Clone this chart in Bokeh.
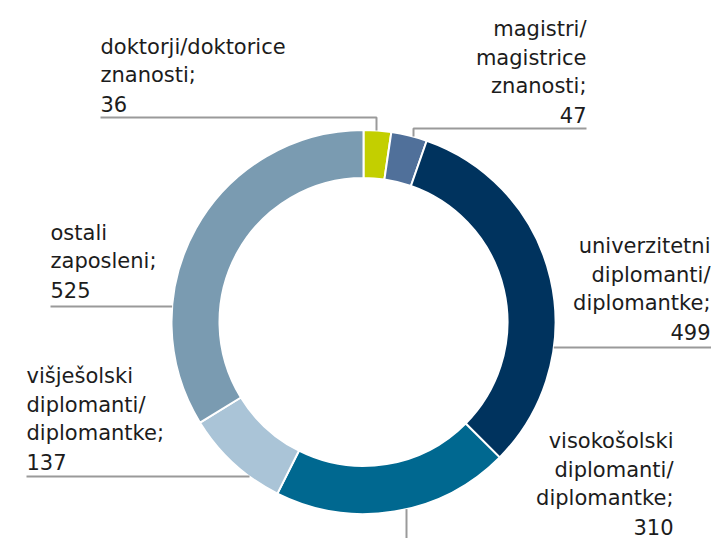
import math
from bokeh.plotting import figure
from bokeh.models import Range1d, ColumnDataSource
from bokeh.core.properties import value
from bokeh.embed import file_html
from bokeh.resources import INLINE

# ---- data (clockwise from 12 o'clock) ----
categories = [
    "doktorji/doktorice znanosti",
    "magistri/magistrice znanosti",
    "univerzitetni diplomanti/diplomantke",
    "visokošolski diplomanti/diplomantke",
    "višješolski diplomanti/diplomantke",
    "ostali zaposleni",
]
values = [36, 47, 499, 310, 137, 525]
label_lines = [
    ["doktorji/doktorice", "znanosti;"],
    ["magistri/", "magistrice", "znanosti;"],
    ["univerzitetni", "diplomanti/", "diplomantke;"],
    ["visokošolski", "diplomanti/", "diplomantke;"],
    ["višješolski", "diplomanti/", "diplomantke;"],
    ["ostali", "zaposleni;"],
]
colors = ["#c3cf00", "#50709a", "#00335e", "#006890", "#aac4d7", "#7a9bb1"]

# ---- layout (reference pixel coordinates, y downward) ----
W, H = 711, 538
def ry(y):
    return H - y

CX, CY = 363, 321.5
R_OUT, R_IN = 192, 144
LINE_H = 28.5
FONT = "DejaVu Sans"
FS = "21px"
TXT = "#1c1c1c"
LEAD = "#9a9a9a"
TEXT_SHIFT = 7  # compensate renderer baseline offset

p = figure(width=W, height=H, output_backend="svg", toolbar_location=None,
           x_range=Range1d(0, W), y_range=Range1d(0, H),
           x_axis_location=None, y_axis_location=None, min_border=0)
p.grid.visible = False
p.outline_line_color = None
p.background_fill_color = "white"

total = sum(values)
starts, ends = [], []
cum = 0
for v in values:
    a0 = math.pi / 2 - 2 * math.pi * (cum + v) / total
    a1 = math.pi / 2 - 2 * math.pi * cum / total
    starts.append(a0)
    ends.append(a1)
    cum += v

src = ColumnDataSource(dict(x=[CX] * len(values), y=[ry(CY)] * len(values),
                            start=starts, end=ends, color=colors, cat=categories))
p.annular_wedge(x="x", y="y", inner_radius=R_IN, outer_radius=R_OUT,
                start_angle="start", end_angle="end", fill_color="color",
                line_color="white", line_width=2, source=src)

def ring_x(y, side):
    d = math.sqrt(max(R_OUT ** 2 - (y - CY) ** 2, 0))
    return CX + side * d

def ring_y(x, side):
    d = math.sqrt(max(R_OUT ** 2 - (x - CX) ** 2, 0))
    return CY + side * d

# label placement: text x, alignment, leader y, last baseline, leader kind
layout = [
    dict(tx=100, align="left", ly=117, base=110, kind="top", vx=376),
    dict(tx=586, align="right", ly=128, base=121, kind="top", vx=413),
    dict(tx=710, align="right", ly=347, base=338, kind="right"),
    dict(tx=673, align="right", ly=None, base=533, kind="bottom", vx=406),
    dict(tx=26, align="left", ly=476, base=468, kind="left"),
    dict(tx=50, align="left", ly=306, base=296, kind="left"),
]

for i, lay in enumerate(layout):
    lines = label_lines[i] + [str(values[i])]
    n = len(lines)
    ys = [ry(lay["base"] - TEXT_SHIFT - (n - 1 - k) * LINE_H) for k in range(n)]
    p.text(x=[lay["tx"]] * n, y=ys, text=lines, text_font=value(FONT),
           text_font_size=FS, text_color=TXT, text_align=lay["align"],
           text_baseline="alphabetic")
    k = lay["kind"]
    if k == "top":
        y_end = ring_y(lay["vx"], -1)
        p.line([lay["tx"], lay["vx"], lay["vx"]], [ry(lay["ly"]), ry(lay["ly"]), ry(y_end)],
               line_color=LEAD, line_width=2)
    elif k == "right":
        x0 = ring_x(lay["ly"], 1)
        p.line([x0, W], [ry(lay["ly"]), ry(lay["ly"])], line_color=LEAD, line_width=2)
    elif k == "left":
        x0 = ring_x(lay["ly"], -1)
        p.line([lay["tx"], x0], [ry(lay["ly"]), ry(lay["ly"])], line_color=LEAD, line_width=2)
    elif k == "bottom":
        y0 = ring_y(lay["vx"], 1)
        p.line([lay["vx"], lay["vx"]], [ry(y0), ry(H)], line_color=LEAD, line_width=2)

open("out.html", "w").write(file_html(p, INLINE))
